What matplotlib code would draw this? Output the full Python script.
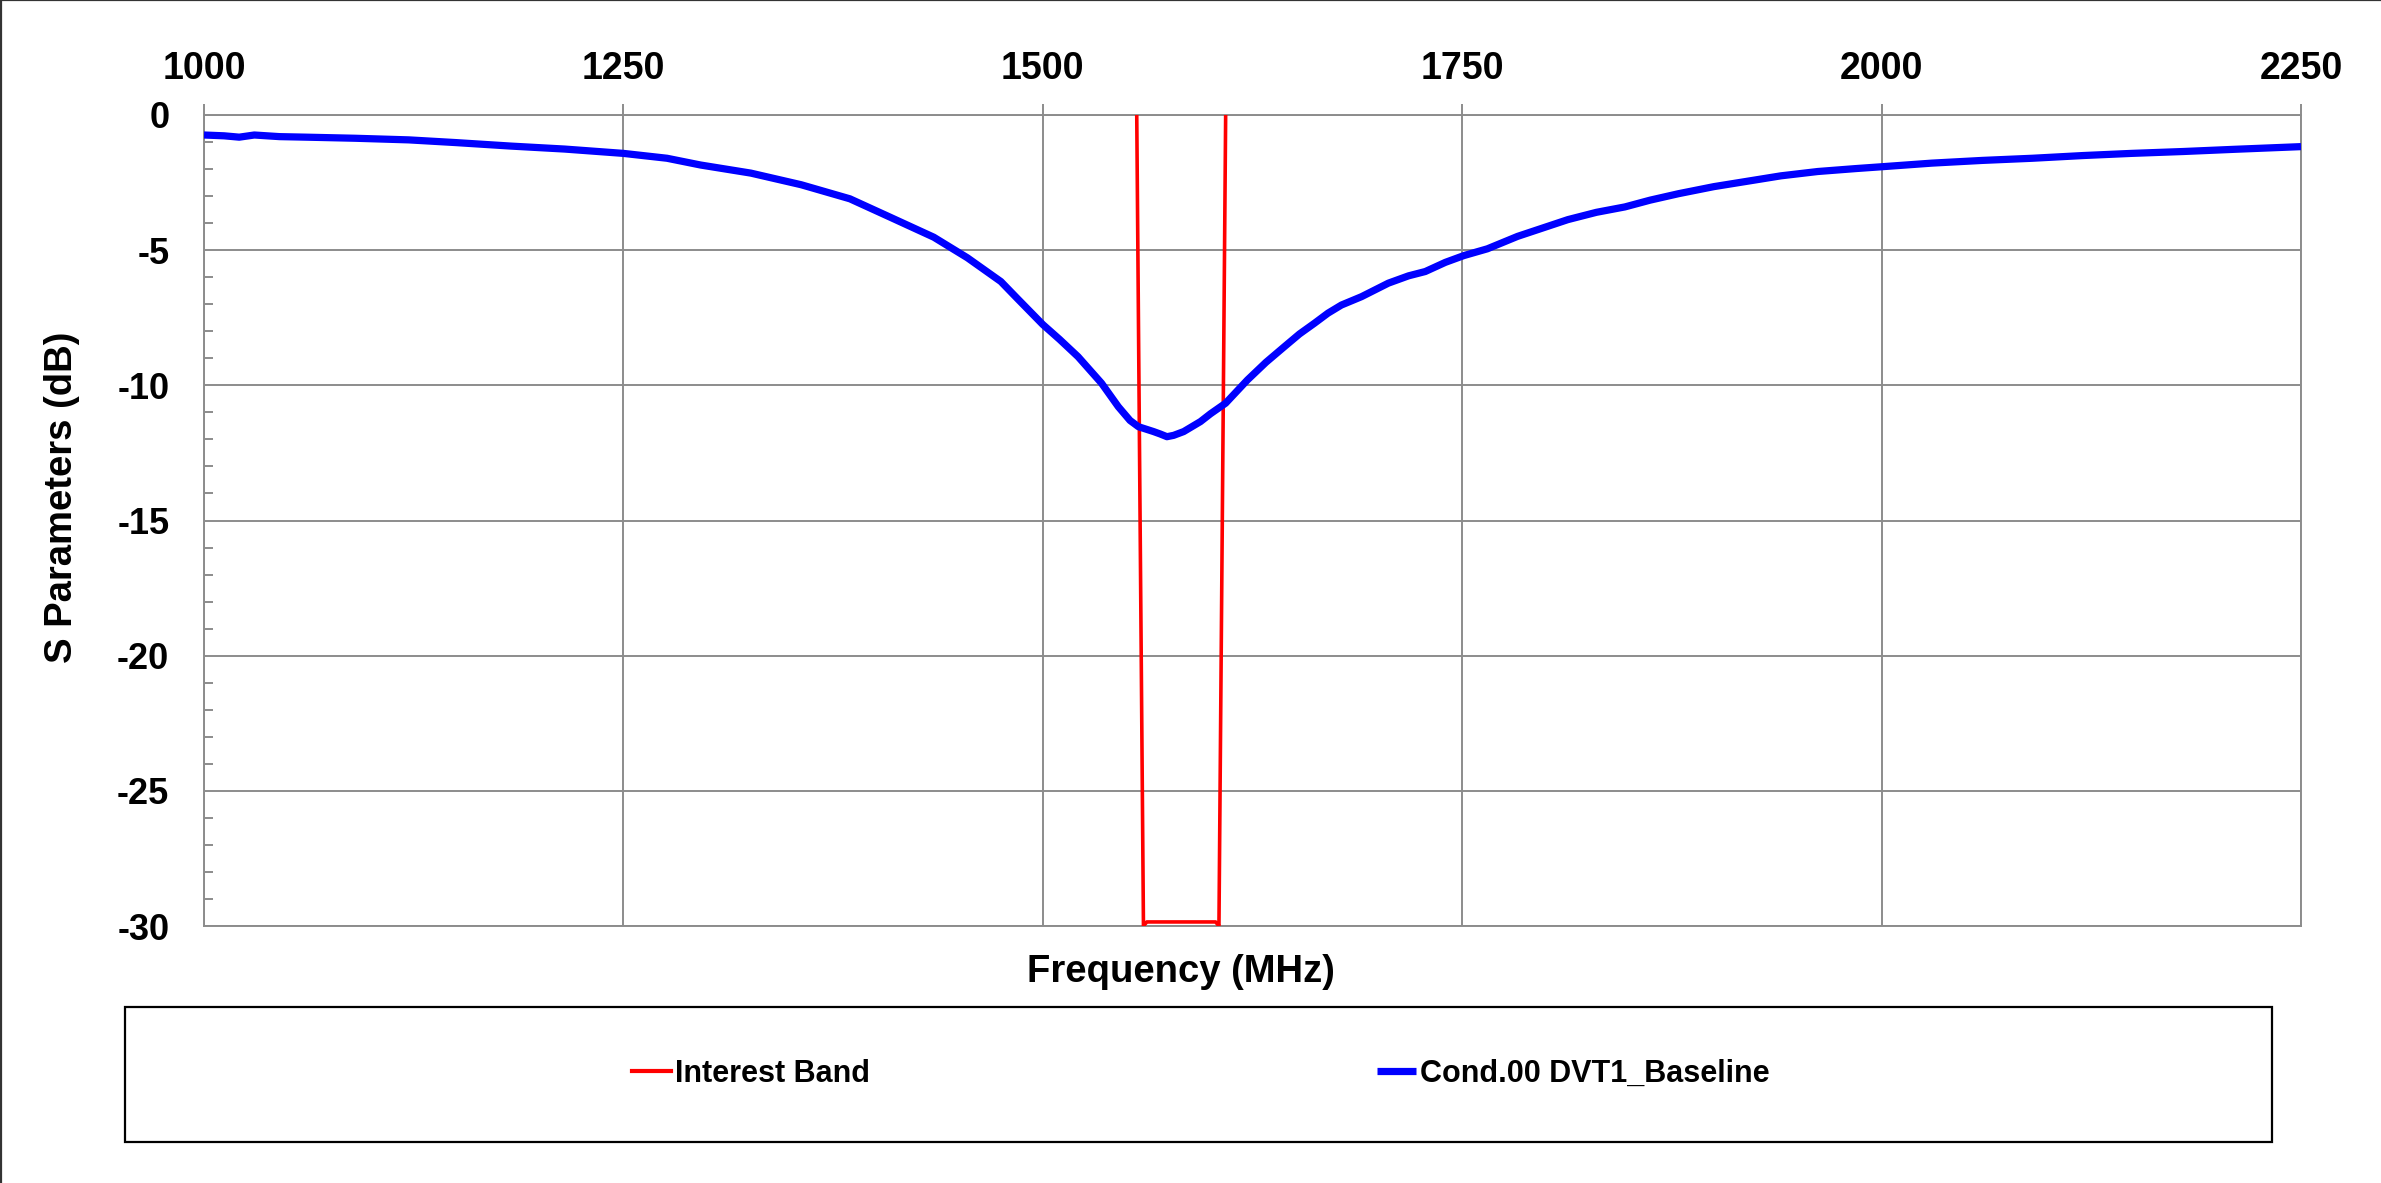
import matplotlib
matplotlib.use("Agg")
import matplotlib.pyplot as plt
from matplotlib import font_manager
from matplotlib.lines import Line2D
from matplotlib.patches import Rectangle
from matplotlib.ticker import MultipleLocator

# ---------------- data ----------------
freq_mhz = [1000, 1012, 1021, 1030, 1045, 1061, 1090, 1122, 1150, 1183, 1215, 1250,
            1276, 1296, 1326, 1356, 1385, 1409, 1435, 1455, 1475, 1485, 1500, 1510,
            1521, 1535, 1545, 1552, 1557, 1566, 1570, 1574, 1578, 1584, 1594, 1600,
            1609, 1622, 1633, 1644, 1653, 1662, 1670, 1678, 1690, 1706, 1718, 1728,
            1740, 1751, 1765, 1783, 1798, 1813, 1830, 1847, 1862, 1879, 1900, 1922,
            1940, 1962, 1985, 2001, 2030, 2060, 2090, 2120, 2149, 2180, 2210, 2250]
s_db = [-0.74, -0.77, -0.82, -0.74, -0.80, -0.82, -0.86, -0.92, -1.02, -1.15, -1.26, -1.42,
        -1.60, -1.85, -2.15, -2.58, -3.10, -3.78, -4.52, -5.28, -6.16, -6.80, -7.75, -8.30,
        -8.94, -9.92, -10.79, -11.30, -11.53, -11.71, -11.80, -11.90, -11.85, -11.71, -11.34, -11.05,
        -10.66, -9.80, -9.15, -8.57, -8.10, -7.70, -7.33, -7.03, -6.72, -6.22, -5.95, -5.79,
        -5.45, -5.20, -4.95, -4.49, -4.18, -3.87, -3.60, -3.40, -3.15, -2.91, -2.65, -2.43,
        -2.25, -2.09, -1.98, -1.91, -1.78, -1.68, -1.60, -1.50, -1.42, -1.35, -1.27, -1.17]

band_freq = [1556, 1560, 1562, 1603, 1605, 1609]
band_db = [0, -30, -29.85, -29.85, -30, 0]

series_names = ["Interest Band", "Cond.00 DVT1_Baseline"]
x_ticks = [1000, 1250, 1500, 1750, 2000, 2250]
y_ticks = [0, -5, -10, -15, -20, -25, -30]
x_label = "Frequency (MHz)"
y_label = "S Parameters (dB)"

# ---------------- fonts ----------------
names = {f.name for f in font_manager.fontManager.ttflist}
base = "Liberation Sans" if "Liberation Sans" in names else "DejaVu Sans"
plt.rcParams["font.family"] = [base, "DejaVu Sans"]

W, H = 2381, 1183
fig = plt.figure(figsize=(W / 100, H / 100), dpi=100)
ax = fig.add_axes([204 / W, 1 - 926 / H, (2301 - 204) / W, (926 - 115) / H])

grid_c = "#8c8c8c"
ax.plot(band_freq, band_db, color="#ff0000", lw=2.6, solid_joinstyle="round",
        label=series_names[0], zorder=3)
ax.plot(freq_mhz, s_db, color="#0000ff", lw=5.2, solid_joinstyle="round",
        solid_capstyle="butt", label=series_names[1], zorder=4)

ax.set_xlim(1000, 2250)
ax.set_ylim(-30, 0)
ax.set_xticks(x_ticks)
ax.set_yticks(y_ticks)
ax.yaxis.set_minor_locator(MultipleLocator(1))
ax.xaxis.tick_top()
ax.grid(True, which="major", color=grid_c, lw=1.4)
ax.set_axisbelow(True)
for s in ax.spines.values():
    s.set_color(grid_c)
    s.set_linewidth(1.4)

ax.tick_params(axis="x", which="major", direction="out", length=8, width=1.4,
               color=grid_c, pad=12, labelsize=27, top=True, bottom=False)
ax.tick_params(axis="y", which="major", length=0, pad=25, labelsize=26)
ax.tick_params(axis="y", which="minor", direction="in", length=6.5, width=1.4,
               color=grid_c, left=True, right=False)
ax.set_xticklabels([str(v) for v in x_ticks], fontweight="bold", fontsize=27)
ax.set_yticklabels([str(v) for v in y_ticks], fontweight="bold", fontsize=26)

fig.text(62 / W, 1 - 497 / H, y_label, rotation=90, ha="center", va="center",
         fontsize=27.5, fontweight="bold")
fig.text(1181 / W, 1 - 972 / H, x_label, ha="center", va="center",
         fontsize=27.5, fontweight="bold")

# legend frame
fig.patches.append(Rectangle((125 / W, 1 - 1142 / H), (2272 - 125) / W, (1142 - 1007) / H,
                             transform=fig.transFigure, fill=False, ec="black", lw=1.6))
handles, labels = ax.get_legend_handles_labels()
leg = fig.legend(handles, labels, loc="center", bbox_to_anchor=(1201 / W, 1 - 1074 / H),
                 ncol=2, frameon=False, prop={"weight": "bold", "size": 22},
                 handlelength=1.28, handletextpad=0.12, columnspacing=16.6)
leg.get_lines()[0].set_linewidth(3.0)
leg.get_lines()[1].set_linewidth(5.2)

# outer border (left and top)
fig.add_artist(Line2D([0.0004, 0.0004], [0, 1], transform=fig.transFigure, color="#333333", lw=1.6))
fig.add_artist(Line2D([0, 1], [0.9996, 0.9996], transform=fig.transFigure, color="#333333", lw=1.6))

fig.savefig("out.png", dpi=100)
